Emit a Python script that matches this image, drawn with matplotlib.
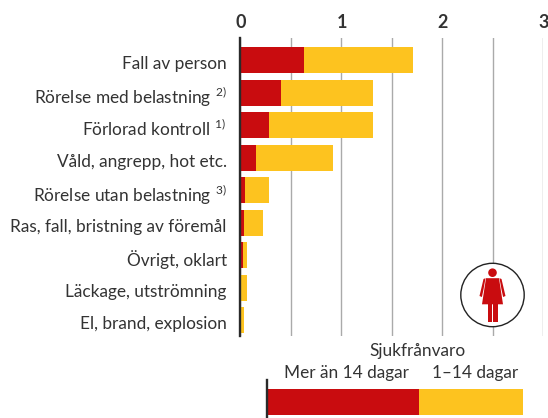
import matplotlib.pyplot as plt
from matplotlib.patches import Circle, Polygon
from matplotlib.transforms import ScaledTranslation

plt.rcParams['font.family'] = ['Lato', 'DejaVu Sans']
plt.rcParams['mathtext.default'] = 'regular'

categories = ["Fall av person", r"Rörelse med belastning$\ ^{2)}$", r"Förlorad kontroll$\ ^{1)}$",
              "Våld, angrepp, hot etc.", r"Rörelse utan belastning$\ ^{3)}$",
              "Ras, fall, bristning av föremål", "Övrigt, oklart",
              "Läckage, utströmning", "El, brand, explosion"]
over_14 = [0.63, 0.405, 0.285, 0.155, 0.045, 0.035, 0.025, 0.0, 0.0]
total = [1.71, 1.32, 1.32, 0.92, 0.285, 0.225, 0.065, 0.065, 0.035]
short = [t - o for t, o in zip(total, over_14)]

legend_over = 1.5
legend_short = 1.03

RED = "#c90c0f"
YELLOW = "#fdc31f"
TEXT = "#333333"
W, H = 548, 418

fig = plt.figure(figsize=(W/100, H/100), dpi=100)

# main chart
ax = fig.add_axes([240/W, 1 - 336/H, 303/W, 298/H])
ypos = list(range(len(categories)))
ax.barh(ypos, over_14, height=0.8, color=RED, zorder=3)
ax.barh(ypos, short, left=over_14, height=0.8, color=YELLOW, zorder=3)
ax.set_xlim(0, 3)
ax.set_ylim(8.49, -0.677)
ax.set_xticks([0, 0.5, 1, 1.5, 2, 2.5, 3])
ax.set_xticklabels(["0", "", "1", "", "2", "", "3"], fontweight="bold", fontsize=13, color=TEXT)
ax.xaxis.tick_top()
ax.set_yticks(ypos)
ax.set_yticklabels(categories, fontsize=12.4, color=TEXT)
ax.tick_params(axis="x", length=0, pad=5)
ax.tick_params(axis="y", length=0, pad=9.5)
ax.grid(axis="x", color="#aaaaaa", lw=1.0, zorder=1)
for s in ["top", "right", "bottom"]:
    ax.spines[s].set_visible(False)
ax.spines["left"].set_linewidth(1.7)
ax.spines["left"].set_color("#2a2a2a")
ax.spines["left"].set_zorder(5)
# labels sit a bit below the bar centres
down = ScaledTranslation(0, -2.5/100, fig.dpi_scale_trans)
for lab in ax.get_yticklabels():
    lab.set_transform(lab.get_transform() + down)
right = ScaledTranslation(1/100, 0, fig.dpi_scale_trans)
for lab in ax.get_xticklabels():
    lab.set_transform(lab.get_transform() + right)

# legend bar
lax = fig.add_axes([266.5/W, 0, 256.5/W, 38/H])
lax.barh([0], [legend_over], height=26, color=RED)
lax.barh([0], [legend_short], left=[legend_over], height=26, color=YELLOW)
lax.set_xlim(0, legend_over + legend_short)
lax.set_ylim(-16, 22)
lax.set_xticks([])
lax.set_yticks([])
for s in ["top", "right", "bottom"]:
    lax.spines[s].set_visible(False)
lax.spines["left"].set_linewidth(1.7)
lax.spines["left"].set_color("#2a2a2a")

fig.text(417/W, 1 - 351/H, "Sjukfrånvaro", ha="center", va="center", fontsize=12.4, color=TEXT)
fig.text(347/W, 1 - 373/H, "Mer än 14 dagar", ha="center", va="center", fontsize=12.4, color=TEXT)
fig.text(475.5/W, 1 - 373/H, "1–14 dagar", ha="center", va="center", fontsize=12.4, color=TEXT)

# woman icon, pixel coordinates
icon = fig.add_axes([0, 0, 1, 1], facecolor="none")
icon.set_xlim(0, W)
icon.set_ylim(H, 0)
icon.axis("off")
cx, cy = 492.5, 295
icon.add_patch(Circle((cx, cy), 31.7, fc="white", ec="#222222", lw=1.0))
icon.add_patch(Circle((cx, 272.7), 4.3, fc=RED, ec="none"))
# dress
icon.add_patch(Polygon([(cx - 6.5, 278.2), (cx + 6.5, 278.2), (cx + 10.5, 304.3), (cx - 10.5, 304.3)],
                       fc=RED, ec="none"))
# arms
icon.add_patch(Polygon([(cx + 7, 278.2), (cx + 9, 279), (cx + 13, 296), (cx + 10.6, 297), (cx + 8.9, 289)],
                       fc=RED, ec="none"))
icon.add_patch(Polygon([(cx - 7, 278.2), (cx - 9, 279), (cx - 13, 296), (cx - 10.6, 297), (cx - 8.9, 289)],
                       fc=RED, ec="none"))
# legs
icon.add_patch(Polygon([(cx - 5, 304), (cx - 0.4, 304), (cx - 0.4, 321.5), (cx - 5, 321.5)], fc=RED, ec="none"))
icon.add_patch(Polygon([(cx + 0.4, 304), (cx + 5, 304), (cx + 5, 321.5), (cx + 0.4, 321.5)], fc=RED, ec="none"))

fig.savefig("out.png", dpi=100)
